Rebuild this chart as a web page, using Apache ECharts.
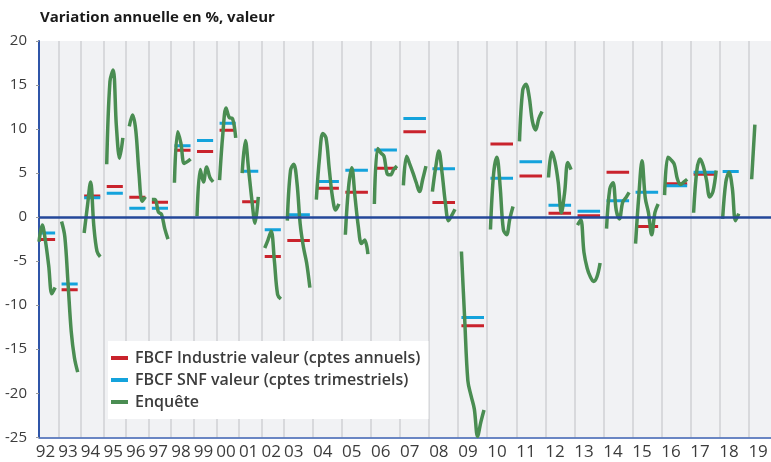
<!DOCTYPE html>
<html><head><meta charset="utf-8">
<script src="https://cdn.jsdelivr.net/npm/echarts@6/dist/echarts.min.js"></script>
<style>html,body{margin:0;padding:0;background:#fff}#c{width:771px;height:462px}</style>
</head><body><div id="c"></div><script>
// Year labels shown on the x axis
const yearLabels = ['92','93','94','95','96','97','98','99','00','01','02','03','04','05','06','07','08','09','10','11','12','13','14','15','16','17','18','19'];
// Number of survey slots per year on the category axis (last slot of each year is empty)
const slotsPerYear = [7,7,7,7,7,7,7,7,7,7,7,9,9,9,9,9,9,9,9,9,9,9,9,9,9,9,9,7];
// Enquête: successive survey estimates of each year's growth (%)
const enquete = [
  [-2.8,-0.9,-2.7,-5.5,-8.7,-8.0],
  [-0.5,-2.2,-7.5,-13.0,-16.0,-17.6],
  [-1.8,1.2,4.0,-1.0,-3.9,-4.5],
  [6.0,15.4,16.7,10.3,6.7,9.0],
  [10.3,11.6,9.9,5.0,1.8,2.3],
  [2.0,2.0,0.6,0.3,-1.3,-2.5],
  [3.9,9.7,8.4,6.1,6.3,6.6],
  [0.1,5.4,4.0,5.7,4.5,4.0],
  [4.2,9.4,12.4,11.3,11.2,9.0],
  [5.0,8.7,5.4,2.0,-0.7,2.3],
  [-3.5,-2.6,-1.6,-5.0,-8.8,-9.3],
  [-0.4,5.3,6.0,3.9,-0.8,-3.4,-5.2,-8.0],
  [2.0,6.8,9.5,9.0,5.5,2.3,0.8,1.5],
  [-2.0,3.4,5.6,2.3,-1.0,-3.0,-2.6,-4.2],
  [1.5,7.8,7.3,6.9,4.9,4.8,5.4,5.8],
  [3.6,6.9,6.0,5.0,3.9,2.9,4.3,5.8],
  [2.9,5.6,7.5,5.0,1.7,-0.4,0.2,0.9],
  [-3.9,-11.5,-18.6,-20.3,-21.8,-24.9,-23.3,-21.9],
  [-1.4,5.0,6.8,3.5,-1.4,-2.0,-0.2,1.2],
  [8.6,14.4,15.1,13.7,10.9,9.9,11.2,12.0],
  [4.5,7.4,6.3,4.0,0.5,2.8,6.2,5.4],
  [-0.9,-0.3,-4.0,-5.8,-6.8,-7.3,-6.8,-5.2],
  [-1.3,3.2,3.9,0.8,-0.2,1.7,2.2,2.8],
  [-3.0,2.4,6.4,2.2,0.5,-2.0,0.5,1.5],
  [2.5,6.8,6.5,6.0,4.3,3.7,4.0,4.3],
  [0.5,5.3,6.6,5.8,4.2,2.3,2.9,5.3],
  [-0.2,4.0,5.1,3.3,-0.4,0.4],
  [4.3,10.5]
];
// FBCF Industrie valeur (comptes annuels), %
const fbcfIndustrie = [-2.55,-8.25,2.4,3.47,2.27,1.7,7.6,7.45,9.87,1.74,-4.47,-2.65,3.29,2.83,5.56,9.7,1.66,-12.33,8.3,4.68,0.45,0.15,5.1,-1.07,3.78,4.88,null,null];
// FBCF SNF valeur (comptes trimestriels), %
const fbcfSnf = [-1.8,-7.6,2.2,2.72,1.0,1.0,8.1,8.7,10.66,5.2,-1.44,0.26,4.04,5.33,7.63,11.2,5.48,-11.4,4.42,6.3,1.36,0.68,1.85,2.83,3.55,5.1,5.17,null];
// y axis ticks
const yMin = -25, yMax = 20, yStep = 5;

const categories = [], greenData = [], redData = [], blueData = [];
const labelIdx = {}, gridIdx = {};
yearLabels.forEach((lab, y) => {
  const start = categories.length;
  const n = slotsPerYear[y];
  const enq = enquete[y];
  for (let s = 0; s < n; s++) {
    categories.push(lab + '_' + s);
    const has = s < enq.length;
    greenData.push(has ? enq[s] : null);
    redData.push(has && fbcfIndustrie[y] != null ? fbcfIndustrie[y] : null);
    blueData.push(has && fbcfSnf[y] != null ? fbcfSnf[y] : null);
  }
  labelIdx[start + 2] = lab;
  if (y < yearLabels.length - 1) gridIdx[start + n - 1] = true;
});

const FONT = '"Open Sans", "Noto Sans", sans-serif';
const chart = echarts.init(document.getElementById('c'), null, {renderer: 'canvas'});
chart.setOption({
  animation: false,
  backgroundColor: '#ffffff',
  title: {
    text: 'Variation annuelle en %, valeur',
    left: 35, top: 5,
    textStyle: {fontFamily: FONT, fontSize: 15, fontWeight: 'bold', color: '#1a1a1a'}
  },
  legend: {
    orient: 'vertical', left: 108, top: 341,
    backgroundColor: '#ffffff',
    padding: [9, 8, 9, 3],
    itemGap: 6, itemWidth: 17, itemHeight: 4,
    icon: 'rect',
    textStyle: {fontFamily: FONT, fontSize: 16, fontWeight: 600, color: '#3c3c3c', padding: [0,0,0,2]},
    data: ['FBCF Industrie valeur (cptes annuels)', 'FBCF SNF valeur (cptes trimestriels)', 'Enquête']
  },
  grid: {left: 39, right: 0, top: 41, bottom: 24.7, show: true, backgroundColor: '#f1f2f4', borderWidth: 0},
  xAxis: {
    type: 'category', boundaryGap: false, data: categories,
    axisLine: {show: true, onZero: false, lineStyle: {color: '#3a5fb0', width: 1.5}},
    axisTick: {show: false},
    splitLine: {show: true, interval: (i) => !!gridIdx[i], lineStyle: {color: '#d8d9dc', width: 2}},
    axisLabel: {
      interval: (i) => labelIdx[i] !== undefined,
      formatter: (v) => v.split('_')[0],
      fontFamily: FONT, fontSize: 17, color: '#3c3c3c', margin: 6
    }
  },
  yAxis: {
    type: 'value', min: yMin, max: yMax, interval: yStep,
    axisLine: {show: true, onZero: false, lineStyle: {color: '#2f55a8', width: 2}},
    axisTick: {show: true, length: 3, lineStyle: {color: '#9a9a9a'}},
    splitLine: {show: false},
    axisLabel: {fontFamily: FONT, fontSize: 15, color: '#3c3c3c', margin: 12}
  },
  series: [
    {
      name: 'FBCF Industrie valeur (cptes annuels)', type: 'line', data: redData,
      symbol: 'none', connectNulls: false,
      lineStyle: {color: '#c9232c', width: 3}, itemStyle: {color: '#c9232c'},
      markLine: {silent: true, symbol: 'none', label: {show: false},
        lineStyle: {color: '#24489a', width: 2.5, type: 'solid'}, data: [{yAxis: 0}]}
    },
    {
      name: 'FBCF SNF valeur (cptes trimestriels)', type: 'line', data: blueData,
      symbol: 'none', connectNulls: false,
      lineStyle: {color: '#14a3dc', width: 3}, itemStyle: {color: '#14a3dc'}
    },
    {
      name: 'Enquête', type: 'line', data: greenData,
      symbol: 'none', connectNulls: false, smooth: 0.35,
      lineStyle: {color: '#4a8d52', width: 3.5}, itemStyle: {color: '#4a8d52'}
    }
  ]
});
</script></body></html>
